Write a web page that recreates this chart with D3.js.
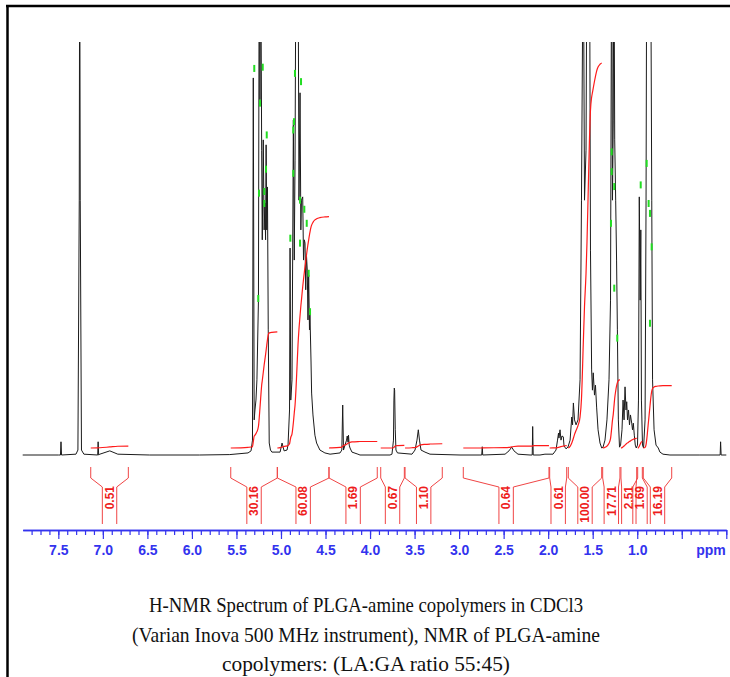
<!DOCTYPE html>
<html><head><meta charset="utf-8">
<script src="https://cdn.jsdelivr.net/npm/d3@7"></script>
<style>body{margin:0;background:#fff}svg{display:block}</style>
</head><body>
<svg id="chart" width="730" height="677"></svg>
<script>
// ---- data ----
// spectrum trace: [chemical shift (ppm), intensity (% of full vertical scale; >100 is off-scale)]
const spectrum = [
 [7.90,0],[7.50,0],[7.476,0],[7.470,3.2],[7.464,0],
 [7.302,0.2],[7.280,1.2],[7.265,61.7],[7.260,130],[7.254,61.7],[7.240,1.2],[7.213,0.2],
 [7.058,0],[7.053,3.2],[7.047,0],[7.034,0.2],[6.922,1.0],[6.832,0.2],
 [6.474,0],[5.915,0],[5.575,0.1],
 [5.370,0.5],[5.336,1.0],[5.320,3.6],[5.311,91.3],[5.301,8.5],[5.292,10.9],[5.281,13.3],[5.270,18.2],
 [5.253,37.5],[5.244,130],[5.236,86],[5.228,130],[5.217,73.8],[5.210,52.1],[5.199,76.3],[5.189,54.5],
 [5.180,61.0],[5.173,52.1],[5.167,75.1],[5.160,54.5],[5.152,64.9],[5.143,30.3],[5.132,2.9],[5.118,1.2],[5.102,0.7],
 [5.010,0.7],[4.988,2.9],[4.965,1.0],[4.932,1.2],[4.921,2.4],[4.904,10.9],[4.898,50.1],[4.890,13.3],
 [4.876,18.2],[4.861,81.1],[4.851,47.2],[4.842,71.4],[4.831,130],[4.820,130],[4.809,130],[4.798,61.7],
 [4.786,87.7],[4.777,54.5],[4.770,61.7],[4.756,62.5],[4.747,47.2],[4.738,52.1],[4.730,51.3],[4.722,40.0],
 [4.714,48.4],[4.705,44.8],[4.697,32.7],[4.689,43.6],[4.680,30.3],[4.675,34.4],[4.663,23.0],[4.656,15.0],
 [4.641,9.7],[4.619,4.8],[4.600,2.9],[4.563,1.2],[4.507,0.5],[4.449,0.2],
 [4.337,0.5],[4.317,1.2],[4.307,12.1],[4.298,1.2],[4.281,2.4],[4.264,3.6],[4.256,4.6],[4.247,3.1],
 [4.242,4.8],[4.234,2.4],[4.225,1.7],[4.203,0.7],[4.136,0.2],[4.113,0],
 [3.776,0],[3.754,0.2],[3.737,3.6],[3.732,13.3],[3.728,16.2],[3.724,15.7],[3.717,6.1],[3.709,1.2],[3.692,0.5],
 [3.529,0.2],[3.495,1.2],[3.473,3.6],[3.458,6.1],[3.445,3.6],[3.428,1.2],[3.383,0.7],[3.327,0.2],
 [2.990,0],[2.766,0],[2.746,0],[2.740,2.0],[2.735,0],
 [2.484,0.2],[2.440,1.0],[2.409,1.9],[2.384,1.0],[2.339,0.2],
 [2.204,0],[2.179,0],[2.174,6.9],[2.168,0],[2.092,0],[2.036,0.2],
 [1.946,0.2],[1.912,1.2],[1.895,3.6],[1.884,5.3],[1.879,4.1],[1.867,6.1],[1.856,3.6],[1.845,4.6],
 [1.830,4.4],[1.822,2.2],[1.800,1.5],[1.778,1.9],
 [1.754,3.6],[1.735,9.2],[1.726,7.3],[1.717,12.6],[1.704,8.5],[1.687,7.3],[1.665,8.5],[1.642,18.2],
 [1.626,61.7],[1.606,130],[1.592,61.7],[1.575,73.8],[1.564,130],[1.550,130],[1.536,130],[1.525,49.6],
 [1.512,20.6],[1.503,15.7],[1.494,19.9],[1.480,14.5],[1.469,16.9],[1.456,11.6],
 [1.440,6.1],[1.418,2.9],[1.399,1.7],[1.384,1.9],[1.362,3.6],[1.340,8.5],[1.317,18.2],[1.300,37.5],
 [1.287,130],[1.278,61.7],[1.269,81.1],[1.262,130],[1.253,76.3],
 [1.242,61.7],[1.232,47.2],[1.223,30.3],[1.212,8.5],[1.199,1.9],[1.187,2.4],[1.171,6.1],[1.159,13.3],
 [1.148,8.5],[1.137,16.5],[1.126,10.9],[1.118,12.9],[1.109,8.5],[1.098,10.9],[1.087,7.3],[1.076,9.7],
 [1.062,7.7],[1.053,6.1],[1.044,7.7],[1.033,4.8],[1.022,2.4],[1.011,1.7],[0.997,2.4],[0.986,13.3],
 [0.977,62.5],[0.967,37.5],[0.960,54.5],[0.953,13.3],[0.941,2.4],
 [0.929,1.7],[0.912,8.5],[0.901,61.7],[0.893,130],[0.878,130],[0.867,130],[0.856,130],[0.850,130],
 [0.837,61.7],[0.828,18.2],[0.811,6.1],[0.789,2.4],[0.764,1.7],[0.745,0.7],[0.711,0.2],[0.633,0],[0.297,0],
 [0.069,0],[0.064,3.2],[0.058,0],[0.0,0]
];

// integration regions: [from ppm, to ppm, integral value]
const integralFrom  = [7.136,5.564,5.041,4.461,3.880,3.607,2.953,1.983,1.774,1.388,1.183,0.995,0.932];
const integralTo    = [6.714,5.041,4.461,3.919,3.615,3.189,1.991,1.792,1.399,1.194,1.006,0.943,0.613];
const integralValue = [0.51,30.16,60.08,1.69,0.67,1.10,0.64,0.61,100.00,17.71,2.51,1.69,16.19];

// peak-pick markers: [ppm, intensity]
const peakMarks = [
 [5.300,93.6],[5.205,93.9],[5.236,85.2],[5.160,77.5],[5.168,69.2],[5.187,63.8],[5.247,63.4],[5.187,60.9],[5.255,37.9],
 [4.843,92.4],[4.775,90.4],[4.854,80.7],[4.862,78.7],[4.862,68.2],[4.786,61.7],[4.738,59.5],[4.711,56.1],
 [4.895,52.5],[4.786,51.3],[4.689,44.0],[4.674,34.7],
 [1.287,73.4],[1.287,68.6],[1.258,65.0],[1.295,56.1],[1.258,40.4],[1.224,28.3],
 [0.894,70.6],[0.961,65.4],[0.872,60.9],[0.857,58.5],[0.838,50.4],[0.857,31.9]
];

const majorTicks = [7.5,7.0,6.5,6.0,5.5,5.0,4.5,4.0,3.5,3.0,2.5,2.0,1.5,1.0,0.5,0.0];
const tickLabels = ["7.5","7.0","6.5","6.0","5.5","5.0","4.5","4.0","3.5","3.0","2.5","2.0","1.5","1.0","",""];
const minorTicks = d3.range(79).map(i => +(7.8 - i*0.1).toFixed(1)).filter(v => v >= 0);
const axisUnit = "ppm";
const caption = [
 "H-NMR Spectrum of PLGA-amine copolymers in CDCl3",
 "(Varian Inova 500 MHz instrument), NMR of PLGA-amine",
 "copolymers: (LA:GA ratio 55:45)"
];

// ---- drawing ----
const svg = d3.select("#chart");
const BLUE = "#3333ee", RED = "#ff1a1a", RED2 = "#f04545";
const x  = d3.scaleLinear().domain([7.9, 0]).range([22.7, 726.3]);
const y  = d3.scaleLinear().domain([0, 100]).range([455, 42]);
const yi = d3.scaleLinear().domain([0, 100]).range([448, 63]);

// frame
svg.append("line").attr("x1",7.5).attr("x2",7.5).attr("y1",5).attr("y2",677).attr("stroke","#000").attr("stroke-width",2.5);
svg.append("line").attr("x1",6).attr("x2",730).attr("y1",6).attr("y2",6).attr("stroke","#000").attr("stroke-width",2.5);

svg.append("clipPath").attr("id","plotclip").append("rect")
  .attr("x",20).attr("y",42).attr("width",710).attr("height",430);

const plot = svg.append("g").attr("clip-path","url(#plotclip)");

// spectrum
plot.append("path").datum(spectrum)
  .attr("fill","none").attr("stroke","#1b1b1b").attr("stroke-width",1)
  .attr("stroke-linejoin","round")
  .attr("d", d3.line().x(d => x(d[0])).y(d => y(d[1])));

// integral curves (cumulative area of the trace in each region)
function interp(p){
  for (let i = 0; i < spectrum.length - 1; i++){
    const a = spectrum[i], b = spectrum[i+1];
    if (p <= a[0] && p >= b[0]) {
      const t = a[0] === b[0] ? 0 : (a[0] - p) / (a[0] - b[0]);
      return a[1] + t * (b[1] - a[1]);
    }
  }
  return 0;
}
integralValue.forEach((val, k) => {
  const a = integralFrom[k], b = integralTo[k];
  const pts = [[a, interp(a)], ...spectrum.filter(d => d[0] < a && d[0] > b), [b, interp(b)]];
  const cum = [0];
  for (let i = 1; i < pts.length; i++){
    cum.push(cum[i-1] + (pts[i-1][0] - pts[i][0]) * (pts[i-1][1] + pts[i][1]) / 2);
  }
  const tot = cum[cum.length - 1] || 1;
  const curve = pts.map((d, i) => [d[0], val * cum[i] / tot]);
  plot.append("path").datum(curve)
    .attr("fill","none").attr("stroke",RED).attr("stroke-width",1.2)
    .attr("d", d3.line().curve(d3.curveMonotoneX).x(d => x(d[0])).y(d => yi(d[1])));
});

// peak markers
plot.selectAll("rect.pk").data(peakMarks).join("rect").attr("class","pk")
  .attr("x", d => x(d[0]) - 1).attr("y", d => y(d[1]) - 3.5)
  .attr("width", 2).attr("height", 7).attr("fill","#22dd22");

// integral brackets + labels
const hw = 7.2;
integralValue.forEach((val, k) => {
  const x1 = x(integralFrom[k]), x2 = x(integralTo[k]), cx = (x1 + x2) / 2;
  const line = d3.line();
  const g = svg.append("g");
  g.append("path").attr("fill","none").attr("stroke",RED2).attr("stroke-width",1)
    .attr("d", line([[x1,467],[x1,478],[cx-hw,487],[cx-hw,524]]));
  g.append("path").attr("fill","none").attr("stroke",RED2).attr("stroke-width",1)
    .attr("d", line([[x2,467],[x2,478],[cx+hw,487],[cx+hw,524]]));
  g.append("text")
    .attr("transform", `translate(${cx},486) rotate(-90)`)
    .attr("text-anchor","end").attr("dy","0.36em")
    .attr("font-family","Liberation Sans, Arial, sans-serif").attr("font-weight","bold")
    .attr("font-size",12).attr("fill","#ee1c1c")
    .text(val.toFixed(2));
});

// axis
const axisG = svg.append("g").attr("transform","translate(0,530)");
axisG.call(d3.axisBottom(x).tickValues(minorTicks).tickSize(5).tickSizeOuter(0).tickFormat(""));
const axisM = svg.append("g").attr("transform","translate(0,530)");
axisM.call(d3.axisBottom(x).tickValues(majorTicks).tickSize(9).tickSizeOuter(0).tickPadding(6)
  .tickFormat((d,i) => tickLabels[i]));
[axisG, axisM].forEach(g => {
  g.selectAll("path.domain").attr("stroke",BLUE).attr("stroke-width",1.6);
  g.selectAll(".tick line").attr("stroke",BLUE).attr("stroke-width",1.2);
});
axisM.selectAll("text").attr("fill",BLUE).attr("font-size",14).attr("font-weight","bold")
  .attr("font-family","Liberation Sans, Arial, sans-serif");
svg.append("text").attr("x",711).attr("y",555).attr("text-anchor","middle")
  .attr("fill",BLUE).attr("font-size",14).attr("font-weight","bold")
  .attr("font-family","Liberation Sans, Arial, sans-serif").text(axisUnit);

// caption
const capWidths = [434, 468, 288];
svg.selectAll("text.cap").data(caption).join("text").attr("class","cap")
  .attr("x",366).attr("y",(d,i) => 612 + i*29.5).attr("text-anchor","middle")
  .attr("font-family","Liberation Serif, Times New Roman, serif").attr("font-size",22)
  .attr("textLength",(d,i) => capWidths[i]).attr("lengthAdjust","spacingAndGlyphs")
  .attr("fill","#111").text(d => d);
</script>
</body></html>
